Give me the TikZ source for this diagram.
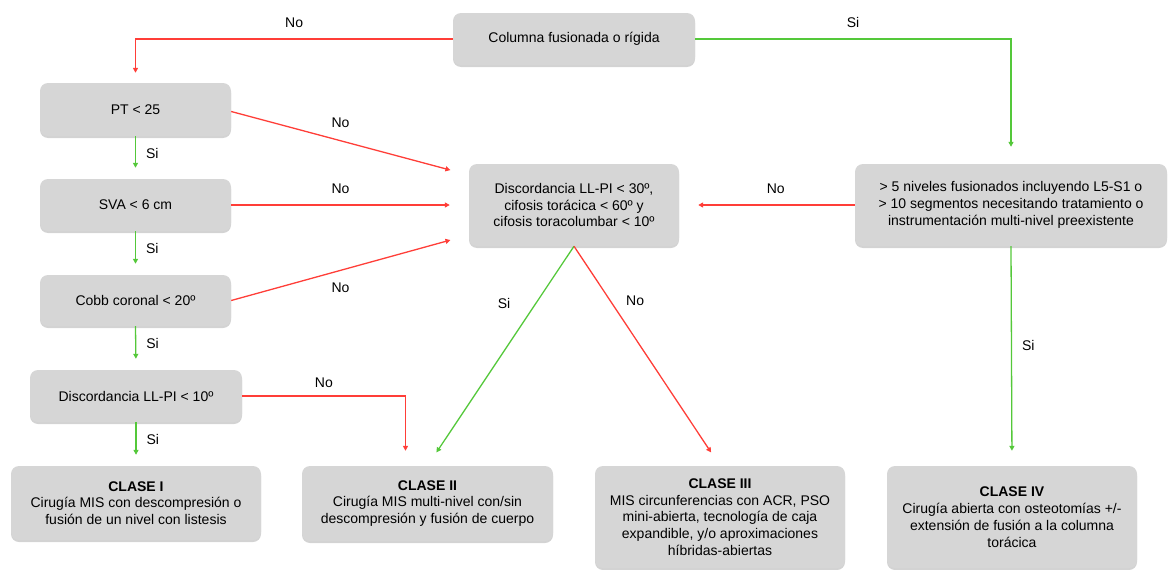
\documentclass[tikz,border=0pt]{standalone}
\usepackage{fontspec}
\setmainfont{Liberation Sans}
\usepackage{xcolor}
\usepackage{tikz}
\usetikzlibrary{arrows.meta,shadows}
\definecolor{myred}{RGB}{255,62,56}
\definecolor{mygreen}{RGB}{84,200,58}
\definecolor{mygray}{RGB}{214,214,214}
\tikzstyle{box} = [rectangle,rounded corners=8pt,fill=mygray,align=center,inner sep=2pt,drop shadow={shadow xshift=0pt,shadow yshift=-2pt,opacity=0.35}]
\tikzstyle{noline} = [line width=1.3pt,myred,-{Triangle[length=5pt,width=5pt]}]
\tikzstyle{siline} = [line width=1.3pt,mygreen,-{Triangle[length=5pt,width=5pt]}]
\tikzstyle{lbl} = [inner sep=2pt,text=black]

\begin{document}
\begin{tikzpicture}[x=1pt,y=-1pt,font=\fontsize{14}{16.8}\selectfont]
    \useasboundingbox (0,0) rectangle (1168,570);
    % questions
    \node[box,minimum width=242pt,minimum height=52pt] (top) at (574,39) {Columna fusionada o rígida};
    \node[box,minimum width=191pt,minimum height=53pt] (pt) at (135.5,109.5) {PT < 25};
    \node[box,minimum width=191pt,minimum height=52pt] (sva) at (135.5,205) {SVA < 6 cm};
    \node[box,minimum width=191pt,minimum height=51pt] (cobb) at (135.5,300.5) {Cobb coronal < 20º};
    \node[box,minimum width=212pt,minimum height=52pt] (d10) at (136,396) {Discordancia LL-PI < 10º};
    \node[box,minimum width=210pt,minimum height=82pt] (disc) at (574,205) {Discordancia LL-PI < 30º,\\ cifosis torácica < 60º y\\ cifosis toracolumbar < 10º};
    \node[box,minimum width=312pt,minimum height=82pt] (niv) at (1011,205) {> 5 niveles fusionados incluyendo L5-S1 o\\ > 10 segmentos necesitando tratamiento o\\ instrumentación multi-nivel preexistente};
    % classes
    \node[box,minimum width=250pt,minimum height=74pt] (c1) at (136,503) {\textbf{CLASE I}\\ Cirugía MIS con descompresión o\\ fusión de un nivel con listesis};
    \node[box,minimum width=251pt,minimum height=75pt] (c2) at (427.5,503.5) {\textbf{CLASE II}\\ Cirugía MIS multi-nivel con/sin\\ descompresión y fusión de cuerpo};
    \node[box,minimum width=250pt,minimum height=102pt] (c3) at (720,517) {\textbf{CLASE III}\\ MIS circunferencias con ACR, PSO\\ mini-abierta, tecnología de caja\\ expandible, y/o aproximaciones\\ híbridas-abiertas};
    \node[box,minimum width=250pt,minimum height=102pt] (c4) at (1012,517) {\textbf{CLASE IV}\\ Cirugía abierta con osteotomías +/-\\ extensión de fusión a la columna\\ torácica};
    % arrows
    \draw[noline,shorten >=10pt] (top.west) -| node[lbl,pos=0.25,above=9pt] {No} (pt.north);
    \draw[siline,shorten >=17pt] (top.east) -| node[lbl,pos=0.25,above=9pt] {Si} (niv.north);
    \draw[siline,shorten >=11pt] (pt.south) -- node[lbl,pos=0.4,right=8pt] {Si} (sva.north);
    \draw[siline,shorten >=11pt] (sva.south) -- node[lbl,pos=0.4,right=8pt] {Si} (cobb.north);
    \draw[siline,shorten >=11pt] (cobb.south) -- node[lbl,pos=0.4,right=8pt] {Si} (d10.north);
    \draw[siline,shorten >=11pt] (d10.south) -- node[lbl,pos=0.4,right=8pt] {Si} (c1.north);
    \draw[noline,shorten >=19pt] ([yshift=-2pt]pt.east) -- node[lbl,pos=0.46,above=10pt] {No} ([yshift=30pt]disc.west);
    \draw[noline,shorten >=19pt] (sva.east) -- node[lbl,pos=0.46,above=9pt] {No} (disc.west);
    \draw[noline,shorten >=19pt] (cobb.east) -- node[lbl,pos=0.46,below=10pt] {No} ([yshift=-30pt]disc.west);
    \draw[noline,shorten >=19pt] (niv.west) -- node[lbl,pos=0.45,above=9pt] {No} (disc.east);
    \draw[noline,shorten >=15pt] (d10.east) -| node[lbl,pos=0.25,above=6pt] {No} ([xshift=-22pt]c2.north);
    \draw[siline,shorten >=16pt] (disc.south) -- node[lbl,pos=0.26,left=23pt] {Si} (c2.north);
    \draw[noline,shorten >=16pt] (disc.south) -- node[lbl,pos=0.25,right=13pt] {No} (c3.north);
    \draw[siline,shorten >=15pt] (niv.south) -- node[lbl,pos=0.45,right=8pt] {Si} (c4.north);
\end{tikzpicture}
\end{document}
